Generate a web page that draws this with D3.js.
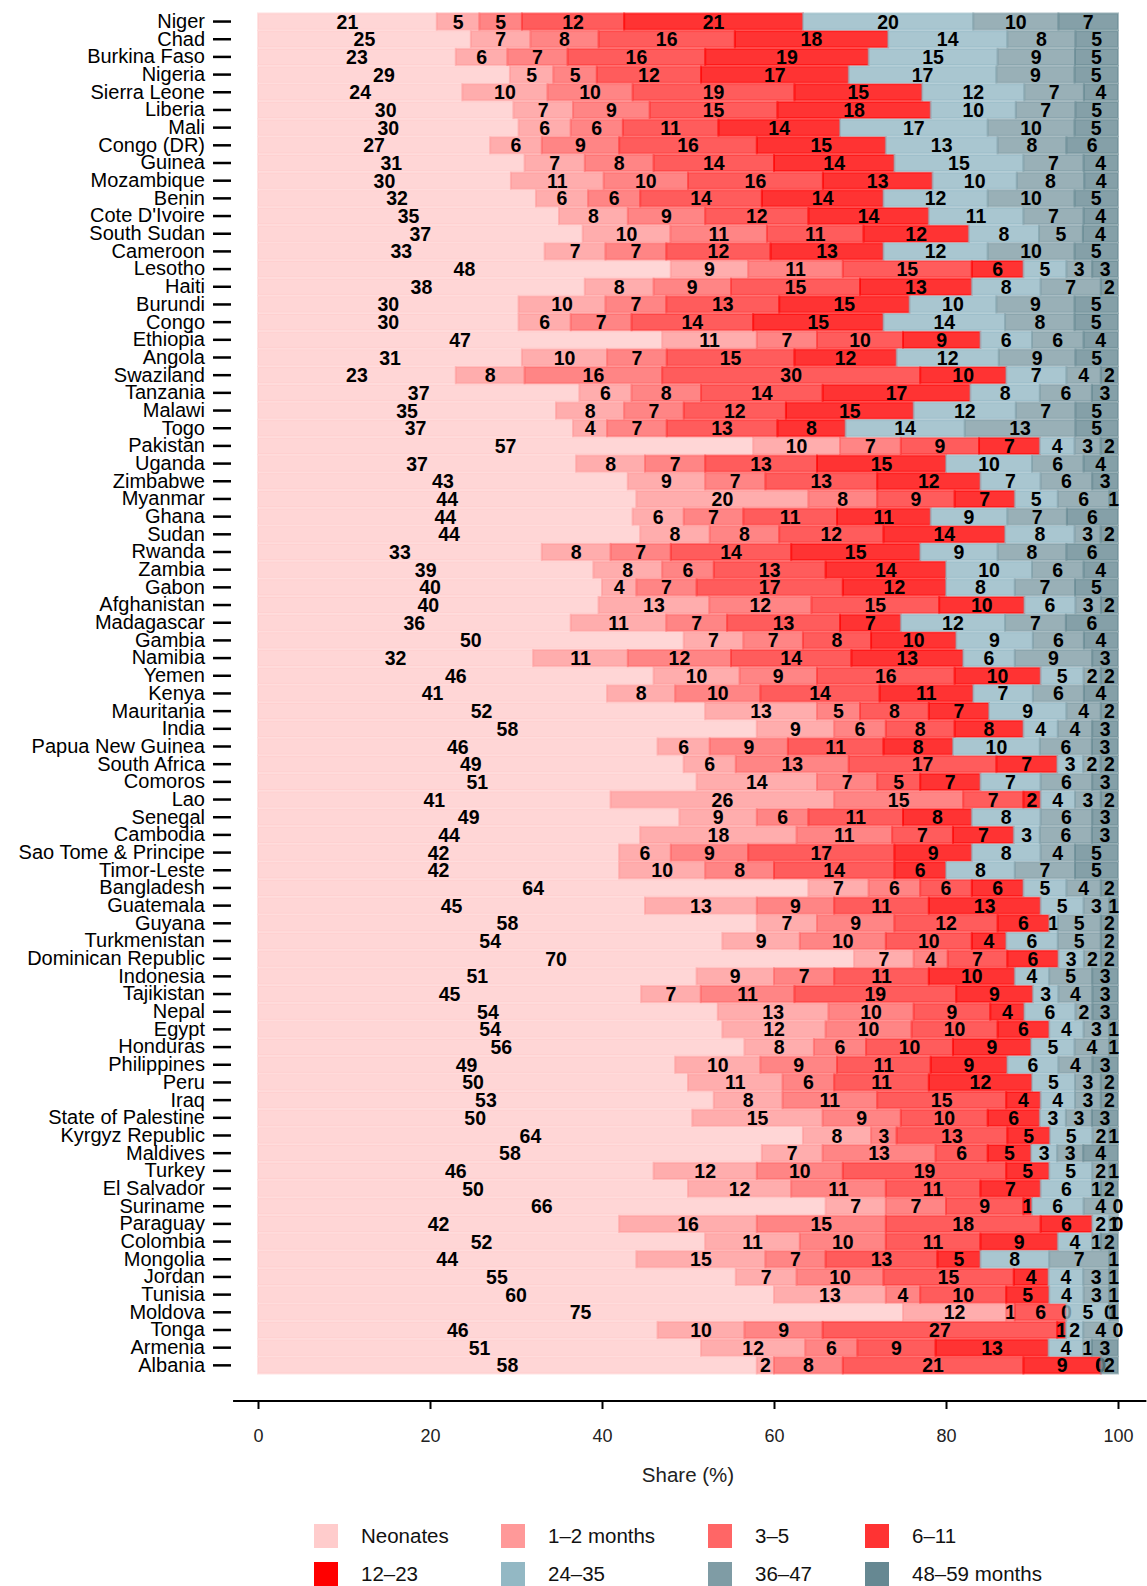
<!DOCTYPE html>
<html>
<head>
<meta charset="utf-8">
<script src="https://cdn.jsdelivr.net/npm/d3@7"></script>
<style>
  body { margin: 0; background: #fff; }
  svg { font-family: "Liberation Sans", Arial, sans-serif; }
</style>
</head>
<body>
<div id="chart"></div>
<script>
let countries = ["Niger","Chad","Burkina Faso","Nigeria","Sierra Leone","Liberia","Mali","Congo (DR)","Guinea","Mozambique",
  "Benin","Cote D'Ivoire","South Sudan","Cameroon","Lesotho","Haiti","Burundi","Congo","Ethiopia","Angola",
  "Swaziland","Tanzania","Malawi","Togo","Pakistan","Uganda","Zimbabwe","Myanmar","Ghana","Sudan",
  "Rwanda","Zambia","Gabon","Afghanistan","Madagascar","Gambia","Namibia","Yemen","Kenya","Mauritania",
  "India","Papua New Guinea","South Africa","Comoros","Lao","Senegal","Cambodia","Sao Tome & Principe","Timor-Leste","Bangladesh",
  "Guatemala","Guyana","Turkmenistan","Dominican Republic","Indonesia","Tajikistan","Nepal","Egypt","Honduras","Philippines",
  "Peru","Iraq","State of Palestine","Kyrgyz Republic","Maldives","Turkey","El Salvador","Suriname","Paraguay","Colombia",
  "Mongolia","Jordan","Tunisia","Moldova","Tonga","Armenia","Albania"];

let ageGroups = ["Neonates", "1\u20132 months", "3\u20135", "6\u201311", "12\u201323", "24\u201335", "36\u201347", "48\u201359 months"];

// one row per country, columns follow ageGroups
let shares = [
  [21,5,5,12,21,20,10,7],
  [25,7,8,16,18,14,8,5],
  [23,6,7,16,19,15,9,5],
  [29,5,5,12,17,17,9,5],
  [24,10,10,19,15,12,7,4],
  [30,7,9,15,18,10,7,5],
  [30,6,6,11,14,17,10,5],
  [27,6,9,16,15,13,8,6],
  [31,7,8,14,14,15,7,4],
  [30,11,10,16,13,10,8,4],
  [32,6,6,14,14,12,10,5],
  [35,8,9,12,14,11,7,4],
  [37,10,11,11,12,8,5,4],
  [33,7,7,12,13,12,10,5],
  [48,9,11,15,6,5,3,3],
  [38,8,9,15,13,8,7,2],
  [30,10,7,13,15,10,9,5],
  [30,6,7,14,15,14,8,5],
  [47,11,7,10,9,6,6,4],
  [31,10,7,15,12,12,9,5],
  [23,8,16,30,10,7,4,2],
  [37,6,8,14,17,8,6,3],
  [35,8,7,12,15,12,7,5],
  [37,4,7,13,8,14,13,5],
  [57,10,7,9,7,4,3,2],
  [37,8,7,13,15,10,6,4],
  [43,9,7,13,12,7,6,3],
  [44,20,8,9,7,5,6,1],
  [44,6,7,11,11,9,7,6],
  [44,8,8,12,14,8,3,2],
  [33,8,7,14,15,9,8,6],
  [39,8,6,13,14,10,6,4],
  [40,4,7,17,12,8,7,5],
  [40,13,12,15,10,6,3,2],
  [36,11,7,13,7,12,7,6],
  [50,7,7,8,10,9,6,4],
  [32,11,12,14,13,6,9,3],
  [46,10,9,16,10,5,2,2],
  [41,8,10,14,11,7,6,4],
  [52,13,5,8,7,9,4,2],
  [58,9,6,8,8,4,4,3],
  [46,6,9,11,8,10,6,3],
  [49,6,13,17,7,3,2,2],
  [51,14,7,5,7,7,6,3],
  [41,26,15,7,2,4,3,2],
  [49,9,6,11,8,8,6,3],
  [44,18,11,7,7,3,6,3],
  [42,6,9,17,9,8,4,5],
  [42,10,8,14,6,8,7,5],
  [64,7,6,6,6,5,4,2],
  [45,13,9,11,13,5,3,1],
  [58,7,9,12,6,1,5,2],
  [54,9,10,10,4,6,5,2],
  [70,7,4,7,6,3,2,2],
  [51,9,7,11,10,4,5,3],
  [45,7,11,19,9,3,4,3],
  [54,13,10,9,4,6,2,3],
  [54,12,10,10,6,4,3,1],
  [56,8,6,10,9,5,4,1],
  [49,10,9,11,9,6,4,3],
  [50,11,6,11,12,5,3,2],
  [53,8,11,15,4,4,3,2],
  [50,15,9,10,6,3,3,3],
  [64,8,3,13,5,5,2,1],
  [58,7,13,6,5,3,3,4],
  [46,12,10,19,5,5,2,1],
  [50,12,11,11,7,6,1,2],
  [66,7,7,9,1,6,4,0],
  [42,16,15,18,6,2,1,0],
  [52,11,10,11,9,4,1,2],
  [44,15,7,13,5,8,7,1],
  [55,7,10,15,4,4,3,1],
  [60,13,4,10,5,4,3,1],
  [75,12,1,6,0,5,0,1],
  [46,10,9,27,1,2,4,0],
  [51,12,6,9,13,4,1,3],
  [58,2,8,21,9,0,0,2]
];

let colors = ["#ffcccc","#ff9999","#ff6666","#ff3333","#ff0000","#93b8c4","#7f9ca5","#668892"];
let xTicks = [0, 20, 40, 60, 80, 100];

function main(){
    let width = 1147;
    let height = 1586;

    let svg = d3.select("#chart").append("svg")
        .attr("width", width)
        .attr("height", height);

    let xScale = d3.scaleLinear().domain([0, 100]).range([258, 1118]);
    let yScale = d3.scaleBand().domain(countries).range([12, 12 + 77 * 17.7]).padding(0.08);
    let color = d3.scaleOrdinal().domain(ageGroups).range(colors);

    let table = countries.map(function(c, i){
        let row = {country: c};
        ageGroups.forEach(function(g, j){ row[g] = shares[i][j]; });
        return row;
    });

    let series = d3.stack()
        .keys(ageGroups)
        .offset(d3.stackOffsetExpand)(table);

    // bars
    let layers = svg.append("g")
        .selectAll("g")
        .data(series)
        .enter()
        .append("g")
        .attr("fill", function(d){ return color(d.key); })
        .attr("stroke", function(d){ return color(d.key); });

    layers.selectAll("rect")
        .data(function(d){ return d; })
        .enter()
        .append("rect")
        .attr("x", function(d){ return xScale(d[0] * 100); })
        .attr("width", function(d){ return xScale(d[1] * 100) - xScale(d[0] * 100); })
        .attr("y", function(d){ return yScale(d.data.country); })
        .attr("height", yScale.bandwidth())
        .attr("fill-opacity", 0.8)
        .attr("stroke-opacity", 0.55)
        .attr("stroke-width", 2);

    // value labels
    layers.selectAll("text")
        .data(function(d){ return d.map(function(v){ return {v: v, key: d.key}; }); })
        .enter()
        .append("text")
        .attr("x", function(d){ return xScale((d.v[0] + d.v[1]) / 2 * 100); })
        .attr("y", function(d){ return yScale(d.v.data.country) + yScale.bandwidth() / 2; })
        .attr("dy", "0.36em")
        .attr("text-anchor", "middle")
        .attr("stroke", "none")
        .attr("fill", "#000")
        .attr("font-size", "19.5px")
        .attr("font-weight", "bold")
        .text(function(d){ return d.v.data[d.key]; });

    // y axis: ticks and names only
    let yAxis = svg.append("g")
        .attr("transform", "translate(231, 0)")
        .call(d3.axisLeft(yScale).tickSize(18).tickPadding(8));
    yAxis.select(".domain").remove();
    yAxis.selectAll(".tick line").attr("stroke", "#000").attr("stroke-width", 2.5);
    yAxis.selectAll(".tick text")
        .attr("font-family", "Liberation Sans, Arial, sans-serif")
        .attr("font-size", "20px")
        .attr("fill", "#000");

    // x axis
    let xAxis = svg.append("g")
        .attr("transform", "translate(0, 1401)")
        .call(d3.axisBottom(xScale).tickValues(xTicks).tickSize(8).tickPadding(20));
    xAxis.select(".domain").remove();
    xAxis.append("line")
        .attr("x1", xScale(-2.9))
        .attr("x2", xScale(103.3))
        .attr("stroke", "#000")
        .attr("stroke-width", 2.2);
    xAxis.selectAll(".tick line").attr("stroke", "#000").attr("stroke-width", 2);
    xAxis.selectAll(".tick text")
        .attr("font-family", "Liberation Sans, Arial, sans-serif")
        .attr("font-size", "18px")
        .attr("fill", "#222");

    svg.append("text")
        .attr("x", xScale(50))
        .attr("y", 1482)
        .attr("text-anchor", "middle")
        .attr("font-size", "20.5px")
        .attr("fill", "#222")
        .text("Share (%)");

    // legend
    let legendX = [314, 501, 708, 865];
    let legendY = [1536, 1574];
    let legend = svg.append("g")
        .selectAll("g")
        .data(ageGroups)
        .enter()
        .append("g")
        .attr("transform", function(d, i){
            return "translate(" + legendX[i % 4] + ", " + legendY[Math.floor(i / 4)] + ")";
        });

    legend.append("rect")
        .attr("x", 0)
        .attr("y", -12)
        .attr("width", 24)
        .attr("height", 24)
        .attr("fill", function(d){ return color(d); });

    legend.append("text")
        .attr("x", 47)
        .attr("y", 0)
        .attr("dy", "0.36em")
        .attr("font-size", "20.5px")
        .attr("fill", "#111")
        .text(function(d){ return d; });
}

main();
</script>
</body>
</html>
